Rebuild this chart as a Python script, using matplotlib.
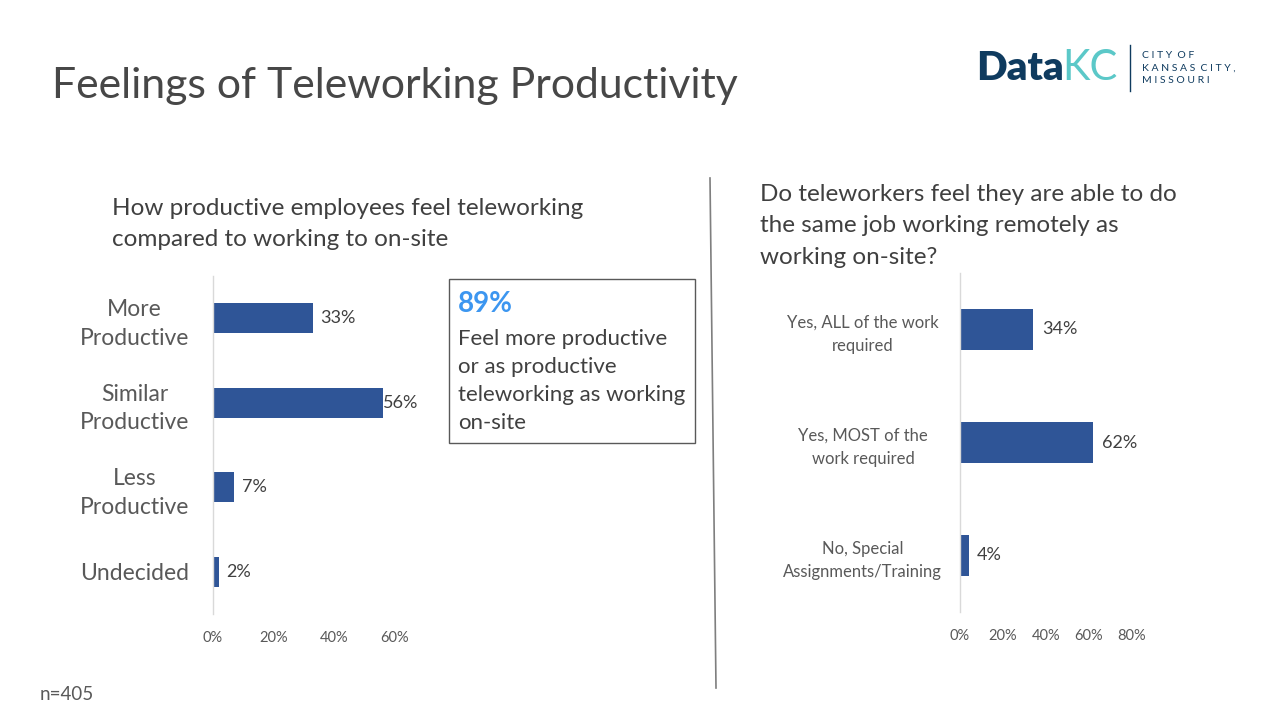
import matplotlib.pyplot as plt
from matplotlib.ticker import PercentFormatter

plt.rcParams['font.family'] = ['Lato', 'DejaVu Sans']

# left chart data
prod_labels = ["More\nProductive", "Similar\nProductive", "Less\nProductive", "Undecided"]
prod_values = [0.33, 0.56, 0.07, 0.02]
prod_ticks = [0, 0.2, 0.4, 0.6]

# right chart data
same_labels = ["Yes, ALL of the work\nrequired", "Yes, MOST of the\nwork required",
               "No, Special\nAssignments/Training"]
same_values = [0.34, 0.62, 0.04]
same_ticks = [0, 0.2, 0.4, 0.6, 0.8]

BAR = "#2F5597"
TXT = "#404040"
GRID = "#D9D9D9"
W, H = 1280, 720


def px_axes(fig, x0, y0, x1, y1):
    return fig.add_axes([x0 / W, 1 - y1 / H, (x1 - x0) / W, (y1 - y0) / H])


def style(ax, ticks, label_size, spacing):
    for s in ["top", "right", "bottom"]:
        ax.spines[s].set_visible(False)
    ax.spines["left"].set_color(GRID)
    ax.spines["left"].set_linewidth(1)
    ax.set_xticks(ticks)
    ax.xaxis.set_major_formatter(PercentFormatter(1, decimals=0))
    ax.tick_params(axis="x", length=0, labelsize=10.5, labelcolor="#595959", pad=12)
    ax.tick_params(axis="y", length=0, labelsize=label_size, labelcolor="#595959", pad=8)
    for lab in ax.get_yticklabels():
        lab.set_linespacing(spacing)


fig = plt.figure(figsize=(12.8, 7.2), dpi=100)

fig.text(52 / W, 1 - 86 / H, "Feelings of Teleworking Productivity", fontsize=30.8,
         color="#474747", va="center", ha="left")

# left chart
ax1 = px_axes(fig, 213, 276, 395, 614)
ax1.barh(range(len(prod_values)), prod_values, height=0.36, color=BAR)
ax1.set_xlim(0, 0.6)
ax1.set_ylim(3.5, -0.5)
ax1.set_yticks(range(len(prod_labels)))
ax1.set_yticklabels(prod_labels, ha="center")
style(ax1, prod_ticks, 16.5, 1.45)
for lab in ax1.get_yticklabels():
    lab.set_x(-0.37)
for i, v in enumerate(prod_values):
    ax1.text(v + 0.025 if v < 0.5 else v, i, f"{v:.0%}", va="center", ha="left",
             fontsize=13, color=TXT)

fig.text(112 / W, 1 - 224 / H, "How productive employees feel teleworking\ncompared to working to on-site",
         fontsize=17.5, color=TXT, va="center", ha="left", linespacing=1.6)

# callout box
fig.patches.append(plt.Rectangle((449 / W, 1 - 443 / H), 246 / W, 164 / H,
                                 transform=fig.transFigure, fill=False,
                                 edgecolor="#595959", linewidth=1))
fig.text(458 / W, 1 - 304 / H, "89%", fontsize=20, fontweight="bold",
         color="#3C96F0", va="center", ha="left")
fig.text(458 / W, 1 - 381 / H,
         "Feel more productive\nor as productive\nteleworking as working\non-site",
         fontsize=16, color=TXT, va="center", ha="left", linespacing=1.5)

# divider
fig.add_artist(plt.Line2D([710 / W, 716 / W], [1 - 178 / H, 1 - 688 / H],
                          color="#7F7F7F", linewidth=1.2))

# right chart
ax2 = px_axes(fig, 960, 273, 1132, 612)
ax2.barh(range(len(same_values)), same_values, height=0.355, color=BAR)
ax2.set_xlim(0, 0.8)
ax2.set_ylim(2.5, -0.5)
ax2.set_yticks(range(len(same_labels)))
ax2.set_yticklabels(same_labels, ha="center")
style(ax2, same_ticks, 12, 1.55)
for lab in ax2.get_yticklabels():
    lab.set_x(-0.5)
for i, v in enumerate(same_values):
    ax2.text(v + 0.04, i, f"{v:.0%}", va="center", ha="left", fontsize=13, color=TXT)

fig.text(760 / W, 1 - 226 / H,
         "Do teleworkers feel they are able to do\nthe same job working remotely as\nworking on-site?",
         fontsize=17.5, color=TXT, va="center", ha="left", linespacing=1.6)

# logo
fig.text(976 / W, 1 - 68 / H, "Data", fontsize=29, fontweight="heavy", color="#0F3B5F",
         va="center", ha="left")
fig.text(1118 / W, 1 - 68 / H, "KC", fontsize=30, color="#5BC8C8",
         va="center", ha="right")
fig.add_artist(plt.Line2D([1130 / W, 1130 / W], [1 - 45 / H, 1 - 91 / H],
                          color="#0F3B5F", linewidth=1))
fig.text(1142 / W, 1 - 68 / H, "C I T Y  O F\nK A N S A S  C I T Y ,\nM I S S O U R I",
         fontsize=7.5, color="#0F3B5F", va="center", ha="left", linespacing=1.55)

fig.text(40 / W, 1 - 695 / H, "n=405", fontsize=13.5, color="#595959", va="center", ha="left")

fig.savefig("out.png", dpi=100)
